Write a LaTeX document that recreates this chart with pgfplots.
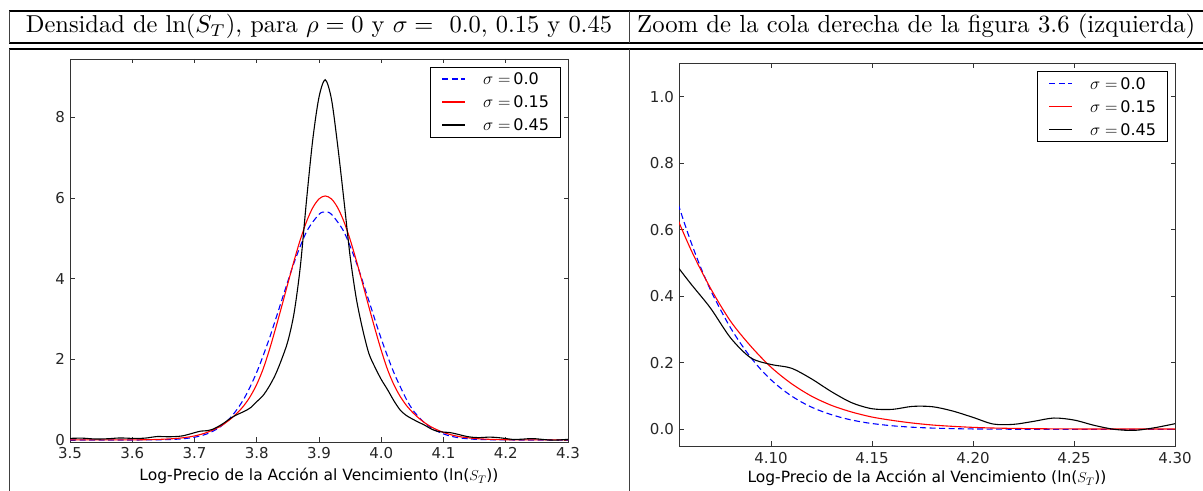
\documentclass[border=0pt]{standalone}
\usepackage{fontspec}
\usepackage{graphicx}
\usepackage{pgfplots}
\pgfplotsset{compat=1.18}
\usepackage{pgfplotstable}
\newfontfamily\dv{DejaVu Sans}

\pgfplotstableread{
x y
3.50 0
3.55 0
3.60 0.0004
3.62 0.0012
3.64 0.0038
3.66 0.0107
3.68 0.028
3.70 0.0676
3.72 0.151
3.74 0.311
3.76 0.592
3.78 1.037
3.80 1.68
3.82 2.507
3.84 3.456
3.86 4.397
3.88 5.162
3.90 5.594
3.91 5.65
3.92 5.594
3.94 5.162
3.96 4.397
3.98 3.456
4.00 2.507
4.02 1.68
4.04 1.02
4.05 0.76
4.055 0.66
4.06 0.57
4.065 0.49
4.07 0.42
4.075 0.36
4.08 0.305
4.085 0.258
4.09 0.216
4.095 0.18
4.10 0.149
4.105 0.123
4.11 0.101
4.115 0.0825
4.12 0.067
4.125 0.0545
4.13 0.044
4.135 0.0352
4.14 0.028
4.145 0.0222
4.15 0.0175
4.16 0.0107
4.17 0.0064
4.18 0.0038
4.19 0.0022
4.20 0.0012
4.22 0.0004
4.25 0.0001
4.30 0
}\bluedata

\pgfplotstableread{
x y
3.50 0.001
3.56 0.001
3.59 0.002
3.61 0.004
3.62 0.006
3.63 0.009
3.64 0.013
3.65 0.019
3.66 0.027
3.67 0.037
3.68 0.052
3.69 0.072
3.70 0.100
3.71 0.138
3.72 0.187
3.73 0.25
3.74 0.325
3.75 0.425
3.76 0.545
3.77 0.69
3.78 0.865
3.79 1.09
3.80 1.38
3.81 1.75
3.82 2.22
3.83 2.749
3.84 3.307
3.85 3.882
3.86 4.446
3.87 4.967
3.88 5.415
3.89 5.759
3.90 5.976
3.91 6.05
3.92 5.976
3.93 5.759
3.94 5.415
3.95 4.967
3.96 4.446
3.97 3.882
3.98 3.307
3.99 2.749
4.00 2.22
4.01 1.75
4.02 1.38
4.03 1.09
4.04 0.865
4.05 0.69
4.06 0.545
4.07 0.425
4.08 0.325
4.09 0.25
4.10 0.187
4.11 0.138
4.12 0.100
4.13 0.072
4.14 0.052
4.15 0.037
4.16 0.027
4.17 0.019
4.18 0.013
4.19 0.009
4.20 0.006
4.21 0.004
4.23 0.002
4.26 0.001
4.30 0.001
}\reddata

\pgfplotstableread{
x y
3.50 0.04
3.52 0.045
3.54 0.025
3.56 0.03
3.58 0.05
3.60 0.04
3.62 0.045
3.64 0.085
3.66 0.08
3.68 0.10
3.70 0.18
3.71 0.22
3.72 0.23
3.73 0.27
3.74 0.35
3.75 0.45
3.76 0.56
3.77 0.64
3.78 0.71
3.79 0.80
3.80 0.95
3.81 1.10
3.82 1.33
3.83 1.62
3.84 2.0
3.85 2.45
3.86 3.15
3.87 4.3
3.88 5.95
3.89 7.45
3.90 8.5
3.91 8.93
3.92 8.45
3.93 7.3
3.94 5.95
3.95 4.55
3.96 3.5
3.97 2.75
3.98 2.15
3.99 1.8
4.00 1.50
4.01 1.25
4.02 0.98
4.03 0.75
4.04 0.61
4.05 0.52
4.06 0.44
4.07 0.365
4.08 0.275
4.09 0.215
4.10 0.195
4.11 0.184
4.12 0.152
4.13 0.113
4.14 0.080
4.15 0.062
4.16 0.060
4.17 0.069
4.18 0.068
4.19 0.055
4.20 0.036
4.21 0.016
4.22 0.015
4.23 0.024
4.24 0.034
4.25 0.028
4.26 0.012
4.27 0.0
4.28 -0.003
4.29 0.005
4.30 0.017
}\blackdata

\pgfplotsset{
  mylegimg/.style={legend image code/.code={\draw[##1, line width=1.4bp] (0bp,0bp) -- (22.5bp,0bp);}},
  myax/.style={
    scale only axis,
    axis line style={line width=0.9bp, black!80},
    tick style={black!80, line width=0.8bp},
    major tick length=4.5bp,
    tick align=inside,
    ticklabel style={font=\dv\fontsize{15bp}{18bp}\selectfont, text=black!85},
    xticklabel style={inner sep=0bp, yshift=-5bp},
    yticklabel style={inner sep=0bp, xshift=-5bp},
    every axis plot/.append style={line width=1.1bp},
    legend cell align=left,
    legend style={at={(1,1)}, anchor=north east, xshift=-7.5bp, yshift=-7.7bp,
      draw=black, line width=0.9bp, text=black,
      font=\dv\fontsize{16bp}{18bp}\selectfont,
      inner xsep=11bp, inner ysep=6bp, row sep=11bp,
      nodes={inner sep=0bp, text height=11.7bp, text depth=0.3bp},
      column sep=0bp},
  },
}

\begin{document}
\begin{tikzpicture}[x=1bp,y=1bp]
\useasboundingbox (0,0) rectangle (1203,491);
% table rules
\draw[line width=1.1bp] (9,480) -- (1210,480);
\draw[line width=1.1bp] (9,448) -- (1210,448);
\draw[line width=1.1bp] (9,442) -- (1210,442);
\draw[line width=0.9bp, black!75] (9,480) -- (9,448);
\draw[line width=0.9bp, black!75] (9,442) -- (9,-2);
\draw[line width=0.9bp, black!75] (629,480) -- (629,448);
\draw[line width=0.9bp, black!75] (629,442) -- (629,-2);
\node[anchor=base west, inner sep=0] at (25.7,458) {\resizebox{586bp}{!}{Densidad de $\ln(S_T)$, para $\rho=0$ y $\sigma=$ \ 0.0, 0.15 y 0.45}};
\node[anchor=base west, inner sep=0] at (637,458) {\resizebox{558bp}{!}{Zoom de la cola derecha de la figura 3.6 (izquierda)}};

\begin{axis}[myax,
  at={(70bp,49bp)}, anchor=south west,
  width=498bp, height=383bp,
  xmin=3.5, xmax=4.3, ymin=-0.05, ymax=9.445,
  xtick={3.5,3.6,3.7,3.8,3.9,4.0,4.1,4.2,4.3},
  xticklabels={3.5,3.6,3.7,3.8,3.9,4.0,4.1,4.2,4.3},
  ytick={0,2,4,6,8}, yticklabels={0,2,4,6,8},
  xlabel={Log-Precio de la Acción al Vencimiento (ln($S_T$))},
  xlabel style={font=\dv\fontsize{15.5bp}{18bp}\selectfont, at={(axis description cs:0.5,0)}, anchor=base, yshift=-38.7bp},
]
\addplot[blue, dash pattern=on 6bp off 3.5bp, smooth, mylegimg] table[x=x,y=y] {\bluedata};
\addlegendentry{\hspace{17.7bp}$\sigma=\,$0.0}
\addplot[red, smooth, mylegimg] table[x=x,y=y] {\reddata};
\addlegendentry{\hspace{17.7bp}$\sigma=\,$0.15}
\addplot[black, smooth, mylegimg] table[x=x,y=y] {\blackdata};
\addlegendentry{\hspace{17.7bp}$\sigma=\,$0.45}
\end{axis}

\begin{axis}[myax,
  at={(679bp,45bp)}, anchor=south west,
  width=496bp, height=382.7bp,
  xmin=4.0545, xmax=4.30, ymin=-0.05, ymax=1.1,
  xtick={4.10,4.15,4.20,4.25,4.30},
  xticklabels={4.10,4.15,4.20,4.25,4.30},
  ytick={0,0.2,0.4,0.6,0.8,1.0}, yticklabels={0.0,0.2,0.4,0.6,0.8,1.0},
  xticklabel style={yshift=-1.5bp},
  xlabel={Log-Precio de la Acción al Vencimiento (ln($S_T$))},
  xlabel style={font=\dv\fontsize{15.5bp}{18bp}\selectfont, at={(axis description cs:0.5,0)}, anchor=base, yshift=-36.7bp},
]
\addplot[blue, dash pattern=on 6bp off 3.5bp, smooth, mylegimg] table[x=x,y=y] {\bluedata};
\addlegendentry{\hspace{17.7bp}$\sigma=\,$0.0}
\addplot[red, smooth, mylegimg] table[x=x,y=y] {\reddata};
\addlegendentry{\hspace{17.7bp}$\sigma=\,$0.15}
\addplot[black, smooth, mylegimg] table[x=x,y=y] {\blackdata};
\addlegendentry{\hspace{17.7bp}$\sigma=\,$0.45}
\end{axis}
\end{tikzpicture}
\end{document}
